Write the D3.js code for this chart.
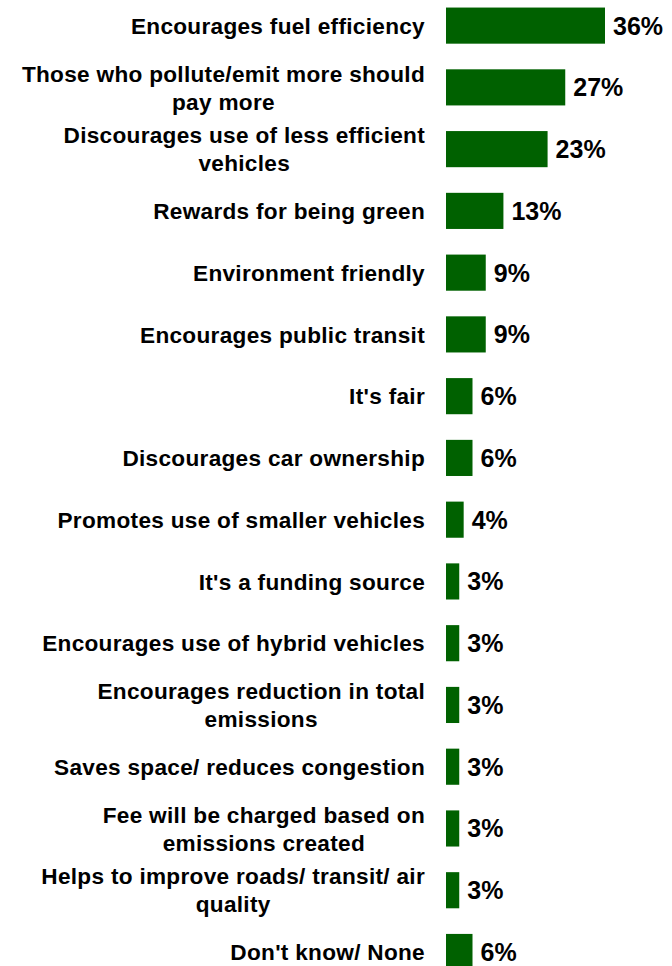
<!DOCTYPE html>
<html>
<head>
<meta charset="utf-8">
<script src="https://cdn.jsdelivr.net/npm/d3@7"></script>
<style>
  html, body { margin: 0; padding: 0; background: #fff; }
  svg { display: block; }
  text { font-family: "Liberation Sans", Arial, sans-serif; font-weight: bold; fill: #000; }
</style>
</head>
<body>
<svg id="chart" width="672" height="966"></svg>
<script>
// Reasons given, each split into the lines it is printed on
const categories = [
  ["Encourages fuel efficiency"],
  ["Those who pollute/emit more should", "pay more"],
  ["Discourages use of less efficient", "vehicles"],
  ["Rewards for being green"],
  ["Environment friendly"],
  ["Encourages public transit"],
  ["It's fair"],
  ["Discourages car ownership"],
  ["Promotes use of smaller vehicles"],
  ["It's a funding source"],
  ["Encourages use of hybrid vehicles"],
  ["Encourages reduction in total", "emissions"],
  ["Saves space/ reduces congestion"],
  ["Fee will be charged based on", "emissions created"],
  ["Helps to improve roads/ transit/ air", "quality"],
  ["Don't know/ None"]
];
const values = [36, 27, 23, 13, 9, 9, 6, 6, 4, 3, 3, 3, 3, 3, 3, 6];

const svg = d3.select("#chart");
const barLeft = 446, labelRight = 425;

const x = d3.scaleLinear().domain([0, 36]).range([barLeft, 605]);
const y = d3.scaleBand()
  .domain(d3.range(values.length))
  .range([-4.8, 982.4])
  .paddingInner(0.415)
  .paddingOuter(0.2);

const rows = svg.selectAll("g.row")
  .data(values.map((v, i) => ({ v, i, lines: categories[i] })))
  .join("g").attr("class", "row");

rows.append("rect")
  .attr("x", x(0))
  .attr("y", d => y(d.i))
  .attr("width", d => x(d.v) - x(0))
  .attr("height", y.bandwidth())
  .attr("fill", "#006100");

rows.append("text")
  .attr("x", d => x(d.v) + 8)
  .attr("y", d => y(d.i) + y.bandwidth() / 2)
  .attr("dy", "0.36em")
  .attr("font-size", 25)
  .text(d => d.v + "%");

// Category labels: right-aligned block, multi-line labels centred within it
rows.each(function (d) {
  const g = d3.select(this);
  const cy = y(d.i) + y.bandwidth() / 2;
  const lh = 28;
  const n = d.lines.length;
  const t = g.append("text")
    .attr("font-size", 22.6)
    .attr("letter-spacing", 0.3)
    .attr("text-anchor", "middle");
  d.lines.forEach((line, k) => {
    t.append("tspan")
      .attr("y", cy + (k - (n - 1) / 2) * lh)
      .attr("dy", "0.36em")
      .text(line);
  });
  let maxW = 0;
  t.selectAll("tspan").each(function () { maxW = Math.max(maxW, this.getComputedTextLength()); });
  t.selectAll("tspan").attr("x", labelRight - maxW / 2);
});
</script>
</body>
</html>
